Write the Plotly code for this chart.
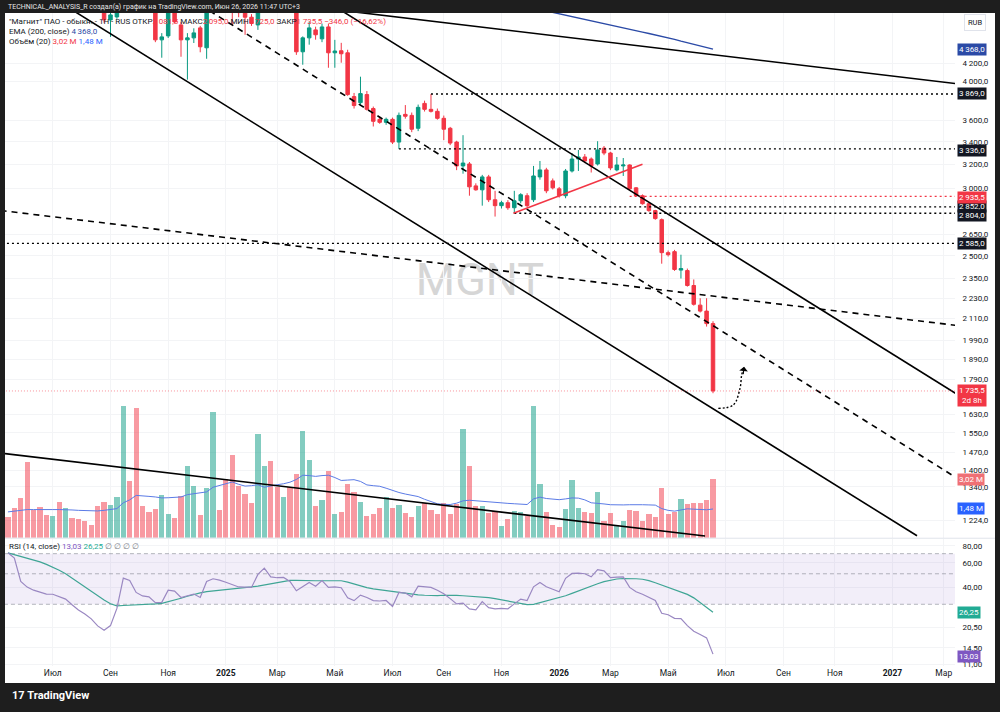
import math
import pandas as pd
import plotly.graph_objects as go

W, H = 1000, 715

# ---------------- data (weekly bars, MGNT) ----------------
dates = pd.date_range("2024-05-13", periods=111, freq="7D")

opens = [8100, 7900, 7700, 7000, 6750, 6550, 6450, 6300, 6400, 6150,
         6250, 5900, 5600, 5400, 5150, 4950, 4725, 4764, 5000, 5600,
         5450, 5050, 4950, 4880, 4478, 4526, 4950, 4662, 4478, 4502,
         4625, 4383, 4900, 5400, 5250, 5050, 4900, 4820, 4760, 4662,
         5000, 5300, 5100, 4950, 5100, 4900, 4336, 4502, 4600, 4490,
         4637, 4324, 4348, 4324, 3842, 3780, 3863, 3720, 3613, 3584,
         3613, 3398, 3662, 3652, 3527, 3772, 3712, 3692, 3623, 3527,
         3398, 3186, 3203, 3019, 2987, 3093, 2908, 2862, 2885, 2846,
         2900, 2940, 2908, 3093, 3152, 3060, 2995, 2940, 3143, 3246,
         3264, 3246, 3203, 3343, 3299, 3152, 3186, 3194, 3003, 2940,
         2877, 2824, 2756, 2521, 2528, 2405, 2402, 2307, 2188, 2153,
         2081.5]
highs = [8300, 8000, 7750, 7100, 6850, 6650, 6500, 6450, 6420, 6300,
         6270, 5950, 5650, 5450, 5200, 5000, 4900, 5050, 5700, 5700,
         5500, 5150, 5000, 4920, 4560, 5000, 5000, 4700, 4560, 4620,
         4650, 4950, 5500, 5500, 5300, 5100, 4950, 4880, 4800, 5050,
         5400, 5350, 5150, 5200, 5150, 4950, 4520, 4700, 4640, 4680,
         4680, 4478, 4442, 4360, 3880, 4054, 3900, 3740, 3640, 3630,
         3630, 3680, 3755, 3680, 3760, 3800, 3869, 3720, 3650, 3540,
         3410, 3462, 3220, 3040, 3110, 3110, 2979, 2900, 2905, 2979,
         2960, 2960, 3186, 3229, 3170, 3080, 3010, 3160, 3299, 3326,
         3290, 3260, 3406, 3362, 3310, 3264, 3255, 3200, 3010, 2950,
         2885, 2830, 2765, 2535, 2540, 2507, 2415, 2345, 2229, 2229,
         2095]
lows = [7800, 7600, 6900, 6600, 6450, 6350, 6200, 6250, 6050, 6100,
        5800, 5500, 5300, 5050, 4850, 4690, 4514, 4740, 4950, 5350,
        4950, 4900, 4820, 4450, 4267, 4500, 4680, 4278, 4022, 4440,
        4330, 4255, 4850, 5150, 4950, 4662, 4760, 4539, 4650, 4600,
        4950, 5050, 4900, 4900, 4850, 4300, 4187, 4420, 4480, 4450,
        4153, 4153, 4210, 3850, 3720, 3760, 3700, 3544, 3570, 3560,
        3380, 3336, 3620, 3490, 3500, 3690, 3680, 3610, 3416, 3370,
        3150, 3120, 2940, 2980, 2862, 2890, 2779, 2840, 2830, 2804,
        2880, 2850, 2890, 3070, 2960, 2990, 2925, 2920, 3130, 3143,
        3210, 3130, 3190, 3280, 3150, 3140, 3101, 2980, 2935.5, 2870,
        2815, 2755, 2447, 2495, 2400, 2351, 2300, 2185, 2145, 2065,
        1725]
closes = [7900, 7700, 7000, 6750, 6550, 6450, 6300, 6400, 6150, 6250,
          5900, 5600, 5400, 5150, 4950, 4725, 4790, 5000, 5600, 5450,
          5050, 4950, 4880, 4478, 4514, 4950, 4700, 4478, 4502, 4563,
          4395, 4900, 5400, 5250, 5050, 4850, 4820, 4760, 4680, 5000,
          5300, 5100, 4950, 5100, 4900, 4336, 4502, 4625, 4540, 4637,
          4324, 4345, 4313, 3863, 3750, 3873, 3712, 3594, 3584, 3613,
          3398, 3652, 3643, 3518, 3732, 3712, 3692, 3623, 3518, 3389,
          3186, 3211, 3011, 2987, 3093, 2908, 2862, 2885, 2846, 2900,
          2948, 2862, 3101, 3152, 2979, 3003, 2940, 3143, 3246, 3264,
          3229, 3186, 3326, 3299, 3169, 3194, 3194, 2995, 2940, 2877,
          2824, 2764, 2521, 2507, 2409, 2415, 2307, 2193, 2153, 2081.5,
          1735.5]
volumes_m = [1.06, 1.54, 2.05, 3.90, 1.45, 1.59, 1.18, 1.14, 1.83, 1.55,
             1.03, 0.96, 0.89, 0.68, 1.62, 1.85, 1.71, 2.09, 6.77, 2.92,
             6.70, 1.62, 1.33, 1.47, 2.19, 1.20, 1.03, 2.14, 3.68, 2.68,
             1.18, 2.56, 6.50, 1.42, 3.04, 4.27, 2.67, 2.26, 1.78, 5.33,
             3.71, 3.98, 2.60, 2.09, 2.62, 3.26, 5.49, 4.00, 1.62, 1.96,
             3.45, 1.25, 1.32, 2.77, 2.34, 1.83, 1.11, 1.20, 1.54, 2.09,
             1.54, 1.69, 1.28, 1.06, 1.64, 1.81, 1.42, 1.25, 1.79, 1.25,
             1.73, 5.62, 3.68, 1.62, 1.66, 1.30, 1.37, 0.62, 0.99, 1.38,
             1.32, 1.11, 6.77, 2.79, 1.33, 0.67, 0.56, 1.50, 2.97, 1.52,
             1.33, 1.28, 2.37, 0.87, 1.30, 0.62, 0.89, 1.42, 1.37, 0.86,
             1.23, 1.09, 2.56, 1.20, 1.33, 1.98, 1.73, 1.78, 1.79, 1.95,
             3.02]
volume_ma_m = [1.33, 1.38, 1.42, 1.45, 1.45, 1.46, 1.46, 1.45, 1.45, 1.45,
               1.43, 1.41, 1.39, 1.37, 1.38, 1.41, 1.44, 1.50, 1.80, 1.95,
               2.18, 2.17, 2.13, 2.10, 2.05, 2.06, 2.08, 2.10, 2.22, 2.28,
               2.33, 2.36, 2.60, 2.70, 2.80, 2.87, 2.75, 2.66, 2.68, 2.73,
               2.60, 2.68, 2.73, 2.78, 2.86, 3.00, 3.22, 3.20, 3.16, 3.20,
               3.22, 3.10, 2.95, 2.97, 2.99, 2.90, 2.72, 2.68, 2.65, 2.55,
               2.42, 2.33, 2.25, 2.18, 2.12, 1.98, 1.85, 1.75, 1.72, 1.71,
               1.78, 1.90, 1.93, 1.90, 1.86, 1.84, 1.81, 1.79, 1.77, 1.75,
               1.72, 1.71, 2.00, 2.09, 2.02, 1.98, 1.96, 2.00, 2.05, 2.04,
               1.95, 1.80, 1.78, 1.74, 1.70, 1.68, 1.69, 1.70, 1.71, 1.70,
               1.69, 1.68, 1.50, 1.41, 1.37, 1.42, 1.49, 1.47, 1.45, 1.44,
               1.48]
rsi = [71, 65, 44, 40, 38, 37, 35.6, 35.5, 34, 32.7,
       29.8, 27.3, 25.5, 23.5, 20.9, 19.4, 21, 28, 46.5, 44.7,
       36.6, 34.5, 34.0, 30.8, 31, 38, 37.4, 33.6, 34.6, 35.6,
       33.6, 44, 46, 45, 43.4, 41.5, 40.1, 40.0, 39.8, 49.5,
       55, 47.5, 46.8, 47, 44, 37.6, 40.6, 43.2, 40.6, 44.7,
       39.8, 40.2, 39.6, 33.5, 31.9, 35, 33.6, 31.9, 31.7, 32,
       28.9, 36.6, 36.2, 34.0, 40.6, 40.2, 39.8, 38.0, 35.8, 33,
       30.2, 30.6, 27.8, 27.3, 31.4, 28.4, 27.8, 28.0, 27.8, 30.2,
       32.7, 31.9, 40.2, 43.2, 40.2, 38.6, 37.0, 46.3, 50.3, 50.5,
       50.0, 47.5, 53.6, 52.5, 46.9, 47.2, 47.5, 39.8, 37.0, 35.5,
       33.8, 32.0, 25.8, 25.2, 23.7, 23.6, 21.0, 19.1, 18.1, 17.1,
       13.03]
rsi_ma = [71, 69, 67, 65, 63, 61, 58.5, 56, 53, 50,
          46.5, 43, 40, 37.2, 34.5, 32.2, 30.3, 29.2, 29.4, 29.5,
          29.7, 29.8, 30, 30.2, 30.5, 31.3, 32.3, 33.2, 34.3, 35.4,
          36.3, 37.1, 37.5, 37.8, 38.1, 38.5, 39, 39.6, 40.1, 40.7,
          41.5, 42.4, 43.3, 44.2, 44.8, 44.7, 44.5, 44.5, 44.5, 44.5,
          44.5, 44.5, 44.5, 43.5, 42.2, 40.6, 39.6, 38.8, 38.2, 37.5,
          36.9, 36.4, 35.8, 35.4, 35.1, 34.9, 34.7, 34.7, 34.9, 35.0,
          34.8, 34.6, 34.4, 34.2, 34.0, 33.5, 33.0, 32.4, 31.8, 31.0,
          30.3, 29.8, 30.0, 30.8, 31.7, 32.6, 33.6, 34.6, 36.0, 37.6,
          39.2, 40.8, 42.3, 43.8, 45.0, 45.8, 46.2, 46.3, 46.0, 45.6,
          44.6, 43.0, 41.3, 39.8, 38.2, 36.8, 35.4, 33.4, 30.8, 28.6,
          26.25]
ema_start = 84  # EMA(200) visible from bar 85 on
ema200 = [4841, 4822, 4802, 4786, 4766, 4749, 4731, 4713, 4695, 4677,
          4660, 4644, 4625, 4607, 4590, 4573, 4556, 4539, 4520, 4502,
          4483, 4462, 4442, 4421, 4399, 4380, 4368]

# drawings (date, price)
solid_lines = [
    (["2024-07-09", "2027-01-30 19:00"], [4954, 1174]),
    (["2025-04-30", "2027-03-19"], [4938, 1710.6]),
    (["2025-04-30", "2027-03-19"], [4866, 3974]),
]
dashed_lines = [
    (["2024-12-09", "2027-03-19"], [4920, 1364]),
    (["2024-05-05", "2027-03-19"], [2825, 2069]),
]
volume_trend = (["2024-05-09 19:00", "2026-06-13 07:00"], [4.33, 0.087])
support_line = (["2025-11-16", "2026-04-06"], [2804, 3200])
levels = [3869.0, 3336.0, 2852.0, 2804.0, 2585.0]
level_start = [dates[66], dates[61], dates[86], dates[79], pd.Timestamp("2024-05-01")]
level_badge_shift = [0, -2, 0, -2, 0]
red_level = 2935.5
red_level_start = dates[97]
last_price = 1735.5
forecast_x = ["2026-06-27 19:00", "2026-07-14 05:00", "2026-07-21 12:00",
              "2026-07-23 07:00", "2026-07-25 22:00"]
forecast_y = [1656, 1671, 1748, 1811, 1853]

price_ticks = [4200, 4000, 3600, 3400, 3200, 3000, 2650, 2500,
               2350, 2230, 2110, 1990, 1890, 1790, 1630, 1550, 1470, 1400,
               1340, 1224]
rsi_ticks = [80, 60, 40, 20.5, 14.5, 11]
month_ticks = ["2024-07-01", "2024-09-02", "2024-11-04", "2025-01-06", "2025-03-03",
               "2025-05-05", "2025-07-07", "2025-09-01", "2025-11-03", "2026-01-05",
               "2026-03-02", "2026-05-04", "2026-07-06", "2026-09-07", "2026-11-02",
               "2027-01-04", "2027-03-01"]
month_labels = ["Июл", "Сен", "Ноя", "<b>2025</b>", "Мар", "Май", "Июл", "Сен", "Ноя",
                "<b>2026</b>", "Мар", "Май", "Июл", "Сен", "Ноя", "<b>2027</b>", "Мар"]

# ---------------- helpers ----------------
def fmt(v, d=1):
    return f"{v:,.{d}f}".replace(",", "\u2009").replace(".", ",")

def py(px):
    return (H - px) / H

UP, DN = "#089981", "#f23645"
TXT = "#131722"
FONT = "Roboto, Liberation Sans, Arial"
X_RANGE = ["2024-05-09 19:00", "2027-03-13 07:00"]
END = "2027-06-01"

fig = go.Figure()

# ---- main pane ----
fig.add_trace(go.Candlestick(
    x=dates, open=opens, high=highs, low=lows, close=closes,
    increasing=dict(line=dict(color=UP, width=1), fillcolor=UP),
    decreasing=dict(line=dict(color=DN, width=1), fillcolor=DN),
    whiskerwidth=0, showlegend=False, hoverinfo="skip", yaxis="y"))

fig.add_trace(go.Scatter(x=dates[ema_start:], y=ema200, mode="lines",
                         line=dict(color="#2b4aa6", width=1.4), yaxis="y",
                         showlegend=False, hoverinfo="skip"))

for xs, ys in solid_lines:
    fig.add_trace(go.Scatter(x=xs, y=ys, mode="lines", line=dict(color="#000000", width=1.6),
                             yaxis="y", showlegend=False, hoverinfo="skip"))
for xs, ys in dashed_lines:
    fig.add_trace(go.Scatter(x=xs, y=ys, mode="lines",
                             line=dict(color="#000000", width=1.6, dash="6px,5px"),
                             yaxis="y", showlegend=False, hoverinfo="skip"))
for lv, st in zip(levels, level_start):
    fig.add_trace(go.Scatter(x=[st, END], y=[lv, lv], mode="lines",
                             line=dict(color="#000000", width=1.3, dash="2px,3px"),
                             yaxis="y", showlegend=False, hoverinfo="skip"))
fig.add_trace(go.Scatter(x=[red_level_start, END], y=[red_level, red_level], mode="lines",
                         line=dict(color=DN, width=1.3, dash="2px,3px"),
                         yaxis="y", showlegend=False, hoverinfo="skip"))
fig.add_trace(go.Scatter(x=["2024-05-01", END], y=[last_price, last_price], mode="lines",
                         line=dict(color="rgba(242,54,69,0.55)", width=1, dash="1px,2px"),
                         yaxis="y", showlegend=False, hoverinfo="skip"))
fig.add_trace(go.Scatter(x=support_line[0], y=support_line[1], mode="lines",
                         line=dict(color=DN, width=1.5), yaxis="y",
                         showlegend=False, hoverinfo="skip"))
fig.add_trace(go.Scatter(x=forecast_x, y=forecast_y, mode="lines",
                         line=dict(color="#000000", width=1.4, dash="2px,2px", shape="spline"),
                         yaxis="y", showlegend=False, hoverinfo="skip"))

# ---- volume (overlay) ----
vol_colors = ["rgba(8,153,129,0.5)" if c >= o else "rgba(242,54,69,0.5)"
              for o, c in zip(opens, closes)]
fig.add_trace(go.Bar(x=dates, y=volumes_m, marker=dict(color=vol_colors, line=dict(width=0)),
                     width=5.2 / (6.41 / 7) * 86400000, yaxis="y2",
                     showlegend=False, hoverinfo="skip"))
fig.add_trace(go.Scatter(x=dates, y=volume_ma_m, mode="lines",
                         line=dict(color="#5b7be6", width=1), yaxis="y2",
                         showlegend=False, hoverinfo="skip"))
fig.add_trace(go.Scatter(x=volume_trend[0], y=volume_trend[1], mode="lines",
                         line=dict(color="#000000", width=1.6), yaxis="y2",
                         showlegend=False, hoverinfo="skip"))

# ---- RSI pane ----
fig.add_trace(go.Scatter(x=["2024-05-01", END, END, "2024-05-01", "2024-05-01"],
                         y=[70, 70, 30, 30, 70], mode="lines", fill="toself",
                         fillcolor="rgba(126,87,194,0.10)", line=dict(width=0),
                         yaxis="y3", showlegend=False, hoverinfo="skip"))
for lv in (70, 50, 30):
    fig.add_trace(go.Scatter(x=["2024-05-01", END], y=[lv, lv], mode="lines",
                             line=dict(color="rgba(120,123,134,0.55)", width=1, dash="4px,3px"),
                             yaxis="y3", showlegend=False, hoverinfo="skip"))
fig.add_trace(go.Scatter(x=dates, y=rsi_ma, mode="lines", line=dict(color="#3fa595", width=1.2),
                         yaxis="y3", showlegend=False, hoverinfo="skip"))
fig.add_trace(go.Scatter(x=dates, y=rsi, mode="lines", line=dict(color="#9a88c2", width=1.2),
                         yaxis="y3", showlegend=False, hoverinfo="skip"))

# ---------------- layout ----------------
P_BOT, P_TOP = 1167.7, 4815.3
R_BOT, R_TOP = 10.646, 89.88
tickfont = dict(family=FONT, size=8, color=TXT)

fig.update_layout(
    width=W, height=H, margin=dict(l=0, r=0, t=0, b=0),
    paper_bgcolor="#ffffff", plot_bgcolor="rgba(0,0,0,0)",
    showlegend=False, boxgap=0.22, bargap=0,
    xaxis=dict(type="date", range=X_RANGE, domain=[0.005, 0.955], anchor="y3",
               tickvals=month_ticks, ticktext=month_labels, tickfont=dict(family=FONT, size=8.5, color=TXT),
               showgrid=True, gridcolor="#f3f4f6", zeroline=False, showline=False,
               ticks="", rangeslider=dict(visible=False), fixedrange=True),
    yaxis=dict(type="log", range=[math.log10(P_BOT), math.log10(P_TOP)],
               domain=[py(540), py(13)], side="right", anchor="x",
               tickvals=price_ticks, ticktext=[fmt(v) for v in price_ticks],
               tickfont=tickfont, showgrid=True, gridcolor="#f3f4f6",
               zeroline=False, showline=False, ticks="outside", ticklen=5, tickcolor="#ffffff"),
    yaxis2=dict(overlaying="y", range=[0, (540 - 13) / 19.5], visible=False),
    yaxis3=dict(type="log", range=[math.log10(R_BOT), math.log10(R_TOP)],
                domain=[py(669), py(541)], side="right", anchor="x",
                tickvals=rsi_ticks, ticktext=[fmt(v, 2) for v in rsi_ticks],
                tickfont=tickfont, showgrid=True, gridcolor="#f3f4f6",
                zeroline=False, showline=False, ticks="outside", ticklen=5, tickcolor="#ffffff"),
)

DARK = "#1e1e1e"
shapes = [
    dict(type="rect", xref="paper", yref="paper", x0=0.38, x1=0.58, y0=py(300), y1=py(255),
         line=dict(width=0), fillcolor="rgba(0,0,0,0)", layer="below",
         label=dict(text="MGNT", font=dict(family=FONT, size=45, color="#d6d6d6"),
                    textposition="middle center")),
    dict(type="line", xref="paper", yref="paper", x0=0.005, x1=0.995, y0=py(540.5), y1=py(540.5),
         line=dict(color="#e0e3eb", width=1), layer="above"),
    dict(type="rect", xref="paper", yref="paper", x0=0, x1=1, y0=py(13), y1=1,
         line=dict(width=0), fillcolor=DARK, layer="above"),
    dict(type="rect", xref="paper", yref="paper", x0=0, x1=1, y0=0, y1=py(686),
         line=dict(width=0), fillcolor=DARK, layer="above"),
    dict(type="rect", xref="paper", yref="paper", x0=0, x1=0.005, y0=0, y1=1,
         line=dict(width=0), fillcolor=DARK, layer="above"),
    dict(type="rect", xref="paper", yref="paper", x0=0.995, x1=1, y0=0, y1=1,
         line=dict(width=0), fillcolor=DARK, layer="above"),
]
fig.update_layout(shapes=shapes)

ann = []
ann.append(dict(xref="paper", yref="paper", x=0.006, y=py(7), xanchor="left", yanchor="middle",
                text="TECHNICAL_ANALYSIS_R создал(а) график на TradingView.com, Июн 26, 2026 11:47 UTC+3",
                showarrow=False, font=dict(family=FONT, size=7, color="#e6e6e6")))
ann.append(dict(xref="paper", yref="paper", x=0.01, y=py(698), xanchor="left", yanchor="middle",
                text="<b>17</b> <b>TradingView</b>", showarrow=False,
                font=dict(family=FONT, size=11, color="#ffffff")))
red = lambda t: f'<span style="color:{DN}">{t}</span>'
ann.append(dict(xref="paper", yref="paper", x=0.007, y=py(22), xanchor="left", yanchor="middle",
                text='"Магнит" ПАО - обыкн. - 1Н - RUS ОТКР' + red(fmt(opens[-1])) +
                     ' МАКС' + red(fmt(highs[-1])) + ' МИН' + red(fmt(lows[-1])) +
                     ' ЗАКР' + red(fmt(closes[-1])) + ' ' +
                     red(f"−{fmt(opens[-1] - closes[-1])} (−{fmt((opens[-1] - closes[-1]) / opens[-1] * 100, 2)}%)"),
                showarrow=False, font=dict(family=FONT, size=8, color=TXT)))
ann.append(dict(xref="paper", yref="paper", x=0.007, y=py(32), xanchor="left", yanchor="middle",
                text=f'EMA (200, close) <span style="color:#2b4aa6">{fmt(ema200[-1])}</span>',
                showarrow=False, font=dict(family=FONT, size=8, color=TXT)))
ann.append(dict(xref="paper", yref="paper", x=0.007, y=py(42), xanchor="left", yanchor="middle",
                text=f'Объём (20) {red(fmt(volumes_m[-1], 2) + " M")} <span style="color:#2962ff">{fmt(volume_ma_m[-1], 2)} M</span>',
                showarrow=False, font=dict(family=FONT, size=8, color=TXT)))
ann.append(dict(xref="paper", yref="paper", x=0.007, y=py(549), xanchor="left", yanchor="middle",
                text=f'RSI (14, close) <span style="color:#7e57c2">{fmt(rsi[-1], 2)}</span> '
                     f'<span style="color:#22ab94">{fmt(rsi_ma[-1], 2)}</span> '
                     f'<span style="color:#787b86">∅ ∅ ∅ ∅</span>',
                showarrow=False, font=dict(family=FONT, size=8, color=TXT)))
ann.append(dict(xref="paper", yref="paper", x=0.975, y=py(23), xanchor="center", yanchor="middle",
                text="RUB", showarrow=False, font=dict(family=FONT, size=7.5, color=TXT),
                bordercolor="#e0e3eb", borderwidth=1, borderpad=3, bgcolor="#ffffff"))

def badge(val_text, y, yref, color, yshift=0):
    return dict(xref="paper", yref=yref, x=0.957, y=y, xanchor="left", yanchor="middle",
                text=val_text, showarrow=False, font=dict(family=FONT, size=8, color="#ffffff"),
                bgcolor=color, borderpad=1, yshift=yshift)

ann.append(badge(fmt(ema200[-1]), math.log10(ema200[-1]), "y", "#2b4aa6"))
for lv, sh in zip(levels, level_badge_shift):
    ann.append(badge(fmt(lv), math.log10(lv), "y", "#131722", sh))
ann.append(badge(fmt(red_level), math.log10(red_level), "y", DN, -1))
ann.append(badge(fmt(last_price) + "<br>2d 8h", math.log10(last_price), "y", DN, yshift=-5))
ann.append(badge(fmt(volumes_m[-1], 2) + " M", volumes_m[-1], "y2", "#ef7075"))
ann.append(badge(fmt(volume_ma_m[-1], 2) + " M", volume_ma_m[-1], "y2", "#2962ff"))
ann.append(badge(fmt(rsi_ma[-1], 2), math.log10(rsi_ma[-1]), "y3", "#22ab94"))
ann.append(badge(fmt(rsi[-1], 2), math.log10(rsi[-1]), "y3", "#7e57c2", -2))
ann.append(dict(xref="x", yref="y", x=forecast_x[-1], y=math.log10(forecast_y[-1]),
                ax=-1, ay=9, showarrow=True, arrowhead=1, arrowsize=1.2, arrowwidth=1.2,
                arrowcolor="#000000", text=""))
fig.update_layout(annotations=ann)

fig.write_html("out.html")
